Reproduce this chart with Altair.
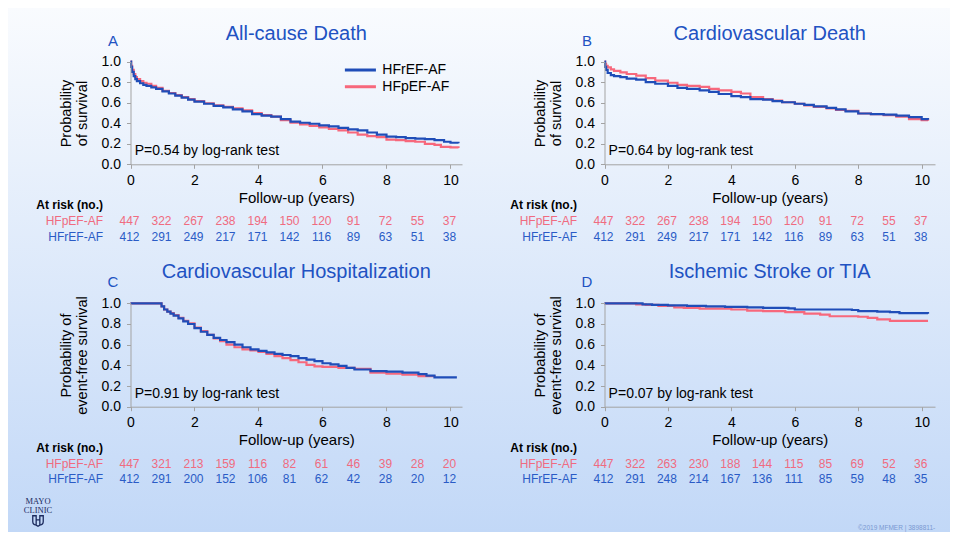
import altair as alt
import pandas as pd

FONT = "Liberation Sans"
BLUE_LINE = "#1f4db8"
PINK_LINE = "#f7687c"
BLUE_TXT = "#2a5bc6"
PINK_TXT = "#f06b80"
TITLE_BLUE = "#2152c2"
AXIS_GRAY = "#a3a3a3"
NAVY = "#1c2b5e"

W, H = 942, 524

group_names = ["HFrEF-AF", "HFpEF-AF"]
year_ticks = [0, 1, 2, 3, 4, 5, 6, 7, 8, 9, 10]

# ---------------- Panel A: All-cause death ----------------
a_ref_t = [0, 0.02, 0.05, 0.1, 0.15, 0.2, 0.3, 0.4, 0.5, 0.65, 0.8, 1.0, 1.2, 1.4, 1.6, 1.8, 2.0, 2.3, 2.6, 2.9,
           3.2, 3.5, 3.8, 4.1, 4.4, 4.7, 5.0, 5.3, 5.6, 5.9, 6.2, 6.5, 6.8, 7.1, 7.4, 7.7, 8.0, 8.3, 8.6, 8.9,
           9.2, 9.5, 9.8, 10.0, 10.25]
a_ref_s = [1.0, 0.95, 0.90, 0.86, 0.83, 0.81, 0.79, 0.775, 0.765, 0.75, 0.735, 0.71, 0.69, 0.67, 0.65, 0.63, 0.61,
           0.59, 0.57, 0.555, 0.535, 0.515, 0.49, 0.475, 0.465, 0.44, 0.415, 0.405, 0.395, 0.38, 0.37, 0.355,
           0.34, 0.33, 0.31, 0.29, 0.27, 0.265, 0.255, 0.25, 0.245, 0.235, 0.22, 0.21, 0.205]
a_pef_t = [0, 0.02, 0.05, 0.1, 0.15, 0.2, 0.3, 0.4, 0.5, 0.65, 0.8, 1.0, 1.2, 1.4, 1.6, 1.8, 2.0, 2.3, 2.6, 2.9,
           3.2, 3.5, 3.8, 4.1, 4.4, 4.7, 5.0, 5.3, 5.6, 5.9, 6.2, 6.5, 6.8, 7.1, 7.4, 7.7, 8.0, 8.3, 8.6, 8.9,
           9.2, 9.5, 9.7, 10.0, 10.25]
a_pef_s = [1.0, 0.96, 0.92, 0.88, 0.85, 0.83, 0.81, 0.795, 0.785, 0.765, 0.745, 0.715, 0.695, 0.675, 0.655, 0.635,
           0.615, 0.595, 0.575, 0.56, 0.545, 0.525, 0.5, 0.48, 0.465, 0.43, 0.405, 0.39, 0.375, 0.36, 0.345, 0.33,
           0.31, 0.29, 0.275, 0.265, 0.24, 0.235, 0.225, 0.22, 0.2, 0.19, 0.17, 0.165, 0.16]
a_risk_pef = [447, 322, 267, 238, 194, 150, 120, 91, 72, 55, 37]
a_risk_ref = [412, 291, 249, 217, 171, 142, 116, 89, 63, 51, 38]

# ---------------- Panel B: Cardiovascular death ----------------
b_ref_t = [0, 0.02, 0.05, 0.1, 0.2, 0.3, 0.5, 0.7, 1.0, 1.3, 1.6, 2.0, 2.3, 2.6, 3.0, 3.3, 3.6, 4.0, 4.3, 4.6,
           5.0, 5.3, 5.6, 6.0, 6.3, 6.6, 7.0, 7.3, 7.6, 8.0, 8.4, 8.8, 9.2, 9.6, 10.0, 10.2]
b_ref_s = [1.0, 0.95, 0.92, 0.89, 0.87, 0.86, 0.85, 0.835, 0.825, 0.80, 0.785, 0.765, 0.745, 0.735, 0.72, 0.705,
           0.685, 0.665, 0.655, 0.635, 0.63, 0.615, 0.605, 0.59, 0.58, 0.565, 0.55, 0.535, 0.515, 0.495, 0.49,
           0.485, 0.475, 0.46, 0.44, 0.435]
b_pef_t = [0, 0.02, 0.05, 0.1, 0.2, 0.3, 0.5, 0.7, 1.0, 1.3, 1.6, 2.0, 2.3, 2.6, 3.0, 3.3, 3.6, 4.0, 4.3, 4.6,
           5.0, 5.3, 5.6, 6.0, 6.3, 6.6, 7.0, 7.3, 7.6, 8.0, 8.4, 8.8, 9.2, 9.6, 10.0, 10.2]
b_pef_s = [1.0, 0.98, 0.96, 0.945, 0.925, 0.91, 0.895, 0.88, 0.865, 0.84, 0.815, 0.795, 0.775, 0.765, 0.755, 0.735,
           0.72, 0.705, 0.69, 0.655, 0.635, 0.62, 0.605, 0.59, 0.575, 0.56, 0.545, 0.53, 0.52, 0.495, 0.49, 0.48,
           0.465, 0.44, 0.43, 0.425]
b_risk_pef = [447, 322, 267, 238, 194, 150, 120, 91, 72, 55, 37]
b_risk_ref = [412, 291, 249, 217, 171, 142, 116, 89, 63, 51, 38]

# ---------------- Panel C: Cardiovascular hospitalization ----------------
c_ref_t = [0, 0.97, 1.05, 1.15, 1.25, 1.35, 1.5, 1.65, 1.8, 2.0, 2.2, 2.4, 2.6, 2.8, 3.0, 3.25, 3.5, 3.75, 4.0,
           4.25, 4.5, 4.75, 5.0, 5.25, 5.5, 5.75, 6.0, 6.25, 6.5, 6.75, 7.0, 7.5, 8.0, 8.5, 9.0, 9.25, 9.5, 10.2]
c_ref_s = [1.0, 0.97, 0.94, 0.92, 0.9, 0.88, 0.855, 0.825, 0.8, 0.76, 0.725, 0.695, 0.665, 0.645, 0.625, 0.6,
           0.575, 0.555, 0.54, 0.525, 0.51, 0.5, 0.49, 0.47, 0.455, 0.44, 0.42, 0.41, 0.395, 0.375, 0.36, 0.345,
           0.34, 0.33, 0.315, 0.3, 0.284, 0.284]
c_pef_t = [0, 0.97, 1.05, 1.15, 1.25, 1.35, 1.5, 1.65, 1.8, 2.0, 2.2, 2.4, 2.6, 2.8, 3.0, 3.25, 3.5, 3.75, 4.0,
           4.25, 4.5, 4.75, 5.0, 5.25, 5.5, 5.75, 6.0, 6.5, 7.0, 7.5, 8.0, 8.5, 9.0, 9.5]
c_pef_s = [1.0, 0.97, 0.94, 0.92, 0.905, 0.885, 0.86, 0.83, 0.805, 0.765, 0.73, 0.695, 0.66, 0.635, 0.6, 0.575,
           0.555, 0.545, 0.53, 0.51, 0.49, 0.47, 0.45, 0.43, 0.405, 0.39, 0.385, 0.375, 0.365, 0.33, 0.32, 0.31,
           0.295, 0.29]
c_risk_pef = [447, 321, 213, 159, 116, 82, 61, 46, 39, 28, 20]
c_risk_ref = [412, 291, 200, 152, 106, 81, 62, 42, 28, 20, 12]

# ---------------- Panel D: Ischemic stroke or TIA ----------------
d_ref_t = [0, 1.2, 1.5, 2.0, 2.6, 3.2, 3.8, 4.5, 5.0, 5.8, 6.0, 7.0, 7.8, 8.0, 8.6, 9.0, 9.3, 10.2]
d_ref_s = [1.0, 0.99, 0.985, 0.98, 0.975, 0.97, 0.965, 0.96, 0.955, 0.95, 0.94, 0.94, 0.935, 0.925, 0.92, 0.915,
           0.905, 0.90]
d_pef_t = [0, 1.0, 1.3, 1.7, 2.2, 2.5, 3.0, 4.0, 4.5, 5.0, 5.7, 6.3, 6.8, 7.1, 8.0, 8.3, 8.6, 9.0, 10.2]
d_pef_s = [1.0, 0.99, 0.985, 0.975, 0.96, 0.955, 0.948, 0.94, 0.93, 0.925, 0.915, 0.9, 0.89, 0.875, 0.87, 0.86,
           0.845, 0.83, 0.83]
d_risk_pef = [447, 322, 263, 230, 188, 144, 115, 85, 69, 52, 36]
d_risk_ref = [412, 291, 248, 214, 167, 136, 111, 85, 59, 48, 35]

panels = [
    dict(letter="A", title="All-cause Death", ytitle=["Probability", "of survival"],
         p="P=0.54 by log-rank test", xr=[122.5, 454], xmax=10.36, yr=[156.3, 53.7], title_y=1.268,
         ref=(a_ref_t, a_ref_s), pef=(a_pef_t, a_pef_s), risk_pef=a_risk_pef, risk_ref=a_risk_ref, legend=True),
    dict(letter="B", title="Cardiovascular Death", ytitle=["Probability", "of survival"],
         p="P=0.64 by log-rank test", xr=[596.5, 927], xmax=10.42, yr=[156.3, 53.7], title_y=1.268,
         ref=(b_ref_t, b_ref_s), pef=(b_pef_t, b_pef_s), risk_pef=b_risk_pef, risk_ref=b_risk_ref, legend=False),
    dict(letter="C", title="Cardiovascular Hospitalization", ytitle=["Probability of", "event-free survival"],
         p="P=0.91 by log-rank test", xr=[122.5, 454], xmax=10.36, yr=[398.7, 295.3], title_y=1.306,
         ref=(c_ref_t, c_ref_s), pef=(c_pef_t, c_pef_s), risk_pef=c_risk_pef, risk_ref=c_risk_ref, legend=False),
    dict(letter="D", title="Ischemic Stroke or TIA", ytitle=["Probability of", "event-free survival"],
         p="P=0.07 by log-rank test", xr=[596.5, 927], xmax=10.42, yr=[398.7, 295.3], title_y=1.306,
         ref=(d_ref_t, d_ref_s), pef=(d_pef_t, d_pef_s), risk_pef=d_risk_pef, risk_ref=d_risk_ref, legend=False),
]

one = pd.DataFrame({"k": [0]})


def make_panel(c):
    xs = alt.Scale(domain=[0, c["xmax"]], range=c["xr"], nice=False, zero=False)
    ys = alt.Scale(domain=[0, 1], range=c["yr"], nice=False, zero=False)
    ppy = (c["xr"][1] - c["xr"][0]) / c["xmax"]
    xax = alt.Axis(orient="bottom", offset=c["yr"][0] - H, values=[0, 2, 4, 6, 8, 10], format="d",
                   title="Follow-up (years)", titleFont=FONT, titleFontSize=15, titleFontWeight="normal",
                   titleColor="black", titlePadding=3, labelFont=FONT, labelFontSize=14, labelColor="black",
                   labelPadding=5, tickSize=4, tickColor=AXIS_GRAY, domainColor=AXIS_GRAY, grid=False,
                   labelFlush=False, zindex=1)
    yax = alt.Axis(orient="left", offset=-c["xr"][0], values=[0, 0.2, 0.4, 0.6, 0.8, 1.0], format=".1f",
                   title=c["ytitle"], titleFont=FONT, titleFontSize=14.5, titleFontWeight="normal",
                   titleColor="black", titlePadding=12, titleLineHeight=16, labelFont=FONT, labelFontSize=14,
                   labelColor="black", labelPadding=6, tickSize=4, tickColor=AXIS_GRAY, domainColor=AXIS_GRAY,
                   grid=False, labelFlush=False, zindex=1)

    def xd(v):
        return alt.XDatum(v, type="quantitative", scale=xs, axis=xax)

    def yd(v):
        return alt.YDatum(v, type="quantitative", scale=ys, axis=yax)

    def curve(ts, color):
        df = pd.DataFrame({"t": ts[0], "s": ts[1]})
        return alt.Chart(df).mark_line(interpolate="step-after", color=color, strokeWidth=2.2).encode(
            x=alt.X("t:Q", scale=xs, axis=xax), y=alt.Y("s:Q", scale=ys, axis=yax))

    def label(text, xv, yv, **kw):
        return alt.Chart(one).mark_text(text=text, font=FONT, baseline="middle", **kw).encode(
            x=xd(xv), y=yd(yv))

    def risk_row(vals, yv, color):
        df = pd.DataFrame({"year": year_ticks, "n": vals})
        return alt.Chart(df).mark_text(font=FONT, fontSize=12, color=color, baseline="middle", dx=-1).encode(
            x=alt.X("year:Q", scale=xs, axis=xax), y=yd(yv), text=alt.Text("n:Q", format="d"))

    lab_x = -27.5 / ppy
    layers = [
        curve(c["pef"], PINK_LINE),
        curve(c["ref"], BLUE_LINE),
        label(c["title"], c["xmax"] / 2, c["title_y"], fontSize=20, color=TITLE_BLUE, align="center"),
        label(c["letter"], -17.5 / ppy, 1.206, fontSize=15, color=TITLE_BLUE, align="center"),
        label(c["p"], 0.13, 0.125, fontSize=14, color="black", align="left"),
        label("At risk (no.)", lab_x, -0.40, fontSize=12, fontWeight="bold", color="black", align="right"),
        label(group_names[1], lab_x, -0.553, fontSize=12, color=PINK_TXT, align="right"),
        label(group_names[0], lab_x, -0.704, fontSize=12, color=BLUE_TXT, align="right"),
        risk_row(c["risk_pef"], -0.553, PINK_TXT),
        risk_row(c["risk_ref"], -0.704, BLUE_TXT),
    ]
    if c["legend"]:
        for name, col, yv in [(group_names[0], BLUE_LINE, 0.919), (group_names[1], PINK_LINE, 0.756)]:
            layers.append(alt.Chart(one).mark_rule(color=col, strokeWidth=3).encode(
                x=xd(6.70), x2=alt.X2Datum(7.67), y=yd(yv)))
            layers.append(label(name, 7.87, yv, fontSize=14, color="black", align="left"))
    return alt.layer(*layers)


bg = alt.Chart(one).mark_rect(
    fill=alt.Gradient(gradient="linear",
                      stops=[alt.GradientStop(color="#f9fbfe", offset=0),
                             alt.GradientStop(color="#c2d8f7", offset=1)],
                      x1=0, x2=0, y1=0, y2=1),
    strokeWidth=0).encode(x=alt.value(0), x2=alt.value(W), y=alt.value(0), y2=alt.value(H))

shield_path = ("M -1 -1 L -0.35 -1 L -0.35 -0.2 L 0.35 -0.2 L 0.35 -1 L 1 -1 L 1 0.1 Q 1 0.7 0.35 0.8 "
               "L 0 1 L -0.35 0.8 Q -1 0.7 -1 0.1 Z M -0.35 -0.2 L -0.35 0.8 M 0.35 -0.2 L 0.35 0.8")

logo_words = ["MAYO", "CLINIC"]
logo = [
    alt.Chart(one).mark_text(text=logo_words[0], font="Liberation Serif", fontSize=8.5, color=NAVY,
                             baseline="middle").encode(x=alt.value(30), y=alt.value(493)),
    alt.Chart(one).mark_text(text=logo_words[1], font="Liberation Serif", fontSize=8.5, color=NAVY,
                             baseline="middle").encode(x=alt.value(30), y=alt.value(501.5)),
    alt.Chart(one).mark_point(shape=shield_path, filled=False, color=NAVY, strokeWidth=1.3, size=110,
                              opacity=1).encode(x=alt.value(30), y=alt.value(513)),
    alt.Chart(one).mark_text(text="©2019 MFMER  |  3898811-", font=FONT, fontSize=6.5, color="#7a98d2",
                             align="left", baseline="middle").encode(x=alt.value(850), y=alt.value(520)),
]

chart = alt.layer(bg, *[make_panel(c) for c in panels], *logo).resolve_scale(
    x="independent", y="independent"
).properties(
    width=W, height=H, padding=0, autosize=alt.AutoSizeParams(type="none")
).configure_view(strokeWidth=0).configure(background="white")

chart.save("out.html", embed_options={"renderer": "svg", "actions": False})
